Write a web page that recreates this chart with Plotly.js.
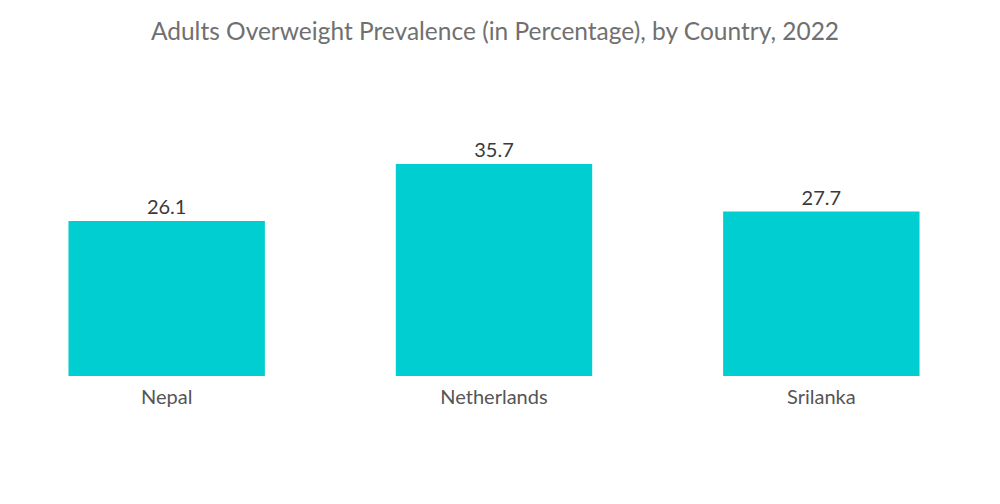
<!DOCTYPE html>
<html>
<head>
<meta charset="utf-8">
<script src="https://cdn.plot.ly/plotly-3.0.1.min.js"></script>
<style>html,body{margin:0;padding:0;background:#fff;}#chart{width:1000px;height:504px;}</style>
</head>
<body>
<div id="chart"></div>
<script>
const categories = ["Nepal", "Netherlands", "Srilanka"];
const values = [26.1, 35.7, 27.7];
const valueLabels = ["26.1", "35.7", "27.7"];

const trace = {
  type: "bar",
  x: categories,
  y: values,
  text: valueLabels,
  textposition: "outside",
  cliponaxis: false,
  textfont: {family: "Lato, 'Open Sans', sans-serif", size: 20, color: "#3a3a3a"},
  marker: {color: "#00CED1"},
  hoverinfo: "none"
};

const layout = {
  width: 1000,
  height: 504,
  margin: {l: 3, r: 15, t: 100, b: 128},
  paper_bgcolor: "#ffffff",
  plot_bgcolor: "#ffffff",
  bargap: 0.4,
  showlegend: false,
  title: {
    text: "Adults Overweight Prevalence (in Percentage), by Country, 2022",
    font: {family: "Lato, 'Open Sans', sans-serif", size: 24.5, color: "#707070"},
    x: 0.495, xanchor: "center", y: 0.938, yanchor: "middle"
  },
  xaxis: {
    showgrid: false, zeroline: false, showline: false, ticks: "",
    ticklabelstandoff: 7,
    tickfont: {family: "Lato, 'Open Sans', sans-serif", size: 20, color: "#555555"}
  },
  yaxis: {
    range: [0, 46.5], showgrid: false, zeroline: false, showline: false,
    showticklabels: false, ticks: ""
  }
};

Plotly.newPlot("chart", [trace], layout, {staticPlot: true, displayModeBar: false});
</script>
</body>
</html>
